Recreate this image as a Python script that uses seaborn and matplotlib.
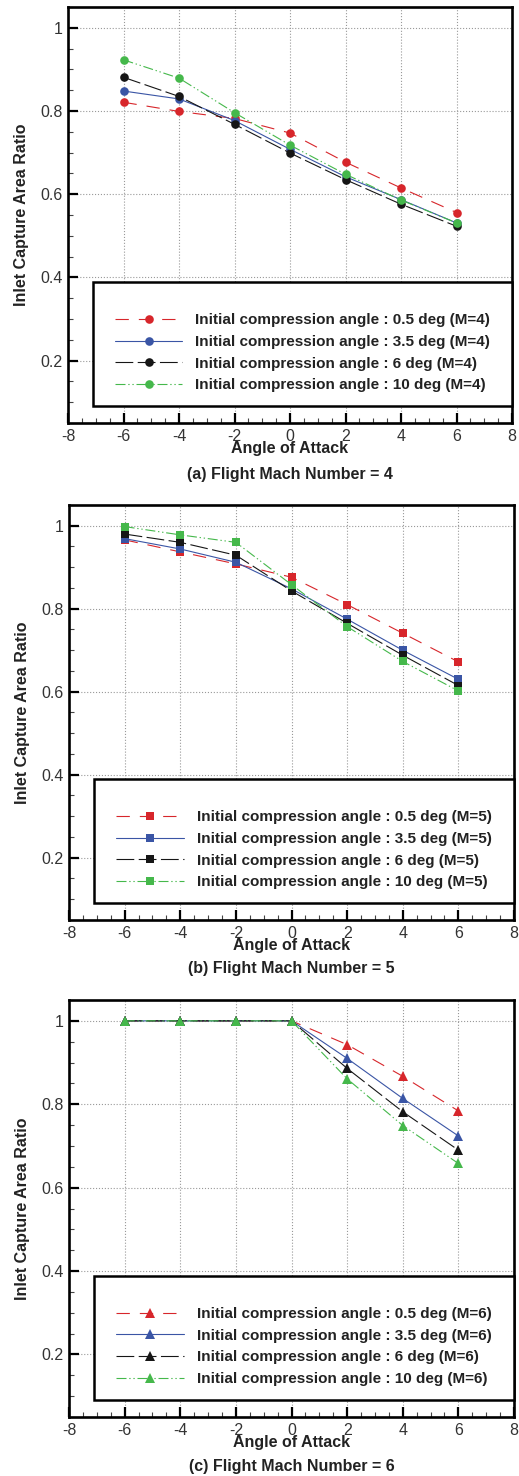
import numpy as np
import pandas as pd
import matplotlib
matplotlib.use("Agg")
import matplotlib.pyplot as plt
import seaborn as sns
from matplotlib.patches import Rectangle
from matplotlib.ticker import MultipleLocator, FixedLocator, FuncFormatter

# ---------------- data ----------------
angles = [-6, -4, -2, 0, 2, 4, 6]
series_names = ["0.5 deg", "3.5 deg", "6 deg", "10 deg"]

m4_05 = [0.821, 0.799, 0.782, 0.747, 0.677, 0.615, 0.556]
m4_35 = [0.848, 0.829, 0.777, 0.708, 0.642, 0.587, 0.531]
m4_6 = [0.881, 0.835, 0.768, 0.699, 0.635, 0.576, 0.523]
m4_10 = [0.923, 0.879, 0.796, 0.718, 0.648, 0.586, 0.531]

m5_05 = [0.966, 0.937, 0.908, 0.876, 0.810, 0.741, 0.672]
m5_35 = [0.969, 0.944, 0.912, 0.848, 0.775, 0.700, 0.630]
m5_6 = [0.980, 0.960, 0.929, 0.843, 0.765, 0.688, 0.615]
m5_10 = [0.998, 0.978, 0.960, 0.858, 0.757, 0.673, 0.602]

m6_05 = [1.0, 1.0, 1.0, 1.0, 0.943, 0.867, 0.784]
m6_35 = [1.0, 1.0, 1.0, 1.0, 0.910, 0.814, 0.724]
m6_6 = [1.0, 1.0, 1.0, 1.0, 0.886, 0.782, 0.690]
m6_10 = [1.0, 1.0, 1.0, 1.0, 0.861, 0.749, 0.658]

mach_numbers = [4, 5, 6]
panel_letters = ["a", "b", "c"]
xticks = [-8, -6, -4, -2, 0, 2, 4, 6, 8]
yticks = [0.2, 0.4, 0.6, 0.8, 1.0]

panels = [
    [m4_05, m4_35, m4_6, m4_10],
    [m5_05, m5_35, m5_6, m5_10],
    [m6_05, m6_35, m6_6, m6_10],
]

# ---------------- style ----------------
sns.set_theme(style="ticks")
plt.rcParams["font.family"] = ["Liberation Sans", "DejaVu Sans"]

colors = {"0.5 deg": "#d7262b", "3.5 deg": "#3a55a5",
          "6 deg": "#161616", "10 deg": "#45b84b"}
dashes = {"0.5 deg": (12, 9), "3.5 deg": "",
          "6 deg": (16, 4), "10 deg": (9, 2.5, 1.2, 2.5, 1.2, 2.5)}
marker_sets = ["o", "s", "^"]
marker_sizes = [6.2, 5.8, 6.8]

W, H = 519, 1476
fig = plt.figure(figsize=(W / 100, H / 100), dpi=100)

# axes boxes in pixel coords (left, top, right, bottom)
boxes = [(68, 7, 512, 423), (69, 505, 514, 920), (69, 1000, 514, 1417)]
caption_y = [475, 969, 1467]

for i, (box, series) in enumerate(zip(boxes, panels)):
    l, t, r, b = box
    ax = fig.add_axes([l / W, 1 - b / H, (r - l) / W, (b - t) / H])

    df = pd.DataFrame({
        "angle": np.tile(angles, len(series_names)),
        "ratio": np.concatenate([np.array(s, dtype=float) for s in series]),
        "series": np.repeat(series_names, len(angles)),
    })
    mk = {n: marker_sets[i] for n in series_names}
    sns.lineplot(data=df, x="angle", y="ratio", hue="series", style="series",
                 hue_order=series_names, style_order=series_names,
                 palette=colors, dashes=dashes, markers=mk,
                 errorbar=None, legend=False, ax=ax, linewidth=0.8,
                 markersize=marker_sizes[i], markeredgewidth=0, zorder=4)

    ax.set_xlim(-8, 8)
    ax.set_ylim(0.05, 1.05)
    ax.xaxis.set_major_locator(FixedLocator(xticks))
    ax.yaxis.set_major_locator(FixedLocator(yticks))
    ax.xaxis.set_minor_locator(MultipleLocator(0.5))
    ax.yaxis.set_minor_locator(MultipleLocator(0.05))
    ax.yaxis.set_major_formatter(FuncFormatter(lambda v, p: f"{v:g}"))
    ax.xaxis.set_major_formatter(FuncFormatter(lambda v, p: f"{v:g}"))

    ax.tick_params(which="major", direction="in", length=7, width=1.6,
                   labelsize=11.5, labelcolor="#333333", color="black", pad=4,
                   top=False, right=False)
    ax.tick_params(which="minor", direction="in", length=3.6, width=0.8,
                   color="#444444", top=False, right=False)
    for sp in ax.spines.values():
        sp.set_linewidth(1.9)
        sp.set_color("black")
        sp.set_visible(True)
    ax.grid(True, which="major", linestyle=":", color="#999999", linewidth=0.8)
    ax.set_axisbelow(True)

    ax.set_xlabel("Angle of Attack", fontsize=11.5, fontweight="bold",
                  color="#222222", labelpad=-1.5)
    ax.set_ylabel("Inlet Capture Area Ratio", fontsize=11.5, fontweight="bold",
                  color="#222222", labelpad=8)

    # legend box
    rect = Rectangle((0.056, 0.041), 0.944, 0.298, transform=ax.transAxes,
                     facecolor="white", edgecolor="black", linewidth=1.8,
                     zorder=6, clip_on=False)
    ax.add_patch(rect)
    handles = ax.get_lines()[:4]
    labels = [f"Initial compression angle : {n} (M={mach_numbers[i]})"
              for n in series_names]
    leg = ax.legend(handles, labels, loc="center",
                    bbox_to_anchor=(0.056, 0.02, 0.944, 0.298),
                    frameon=False, prop={"weight": "bold", "size": 11},
                    handlelength=4.4, handletextpad=0.85, labelspacing=0.5,
                    borderaxespad=0)
    leg.set_zorder(7)
    for txt in leg.get_texts():
        txt.set_color("#222222")

    fig.text((l + r) / 2 / W, 1 - caption_y[i] / H,
             f"({panel_letters[i]}) Flight Mach Number = {mach_numbers[i]}",
             ha="center", va="center", fontsize=11.5, fontweight="bold",
             color="#222222")

fig.savefig("out.png", dpi=100)
